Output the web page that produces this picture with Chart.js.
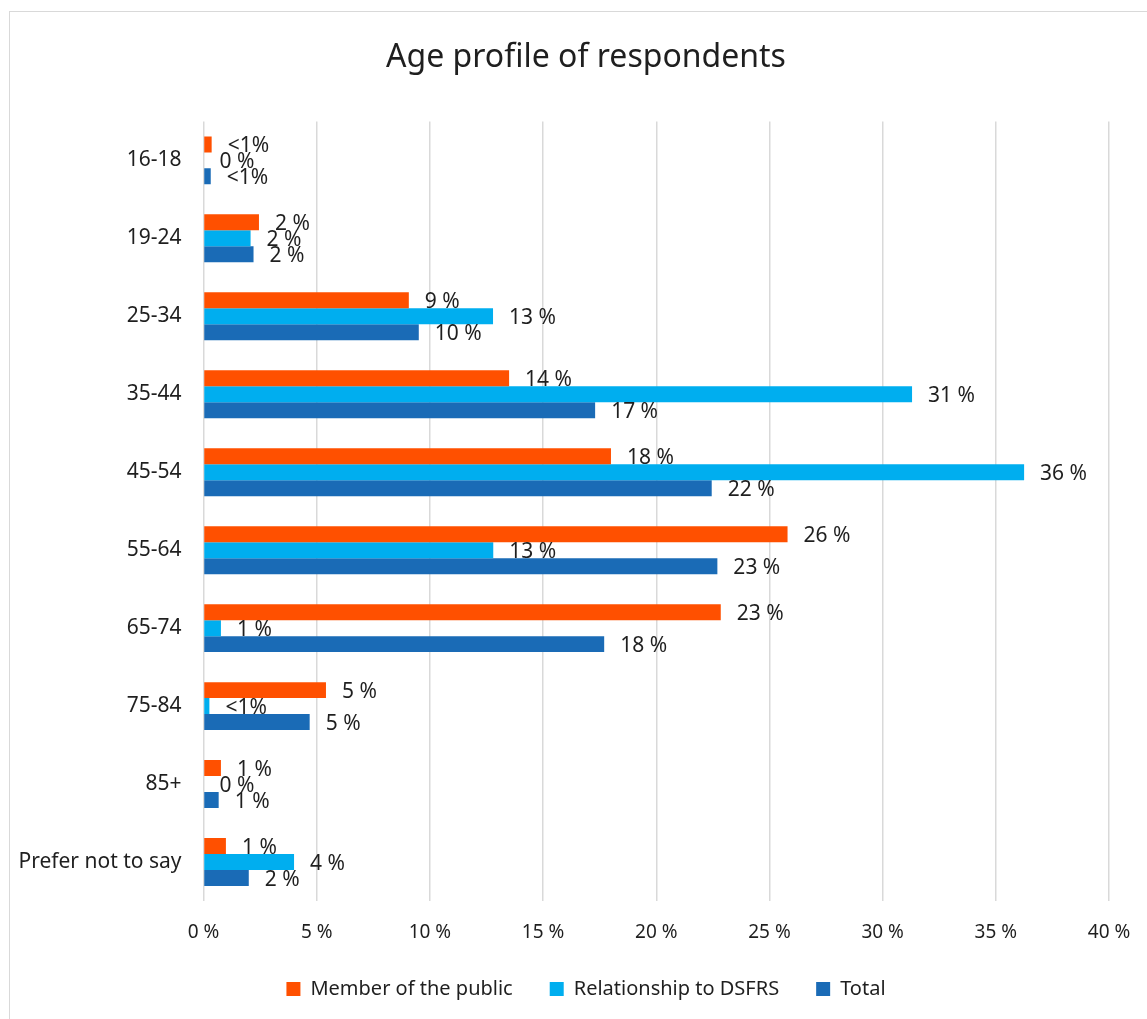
<!DOCTYPE html>
<html>
<head>
<meta charset="utf-8">
<script src="https://cdn.jsdelivr.net/npm/chart.js@4/dist/chart.umd.min.js"></script>
<style>
    html, body { margin: 0; padding: 0; background: #ffffff; }
    #wrap { position: relative; width: 1147px; height: 1019px; overflow: hidden; }
    #frame { position: absolute; left: 9px; top: 11px; width: 1160px; height: 1040px; border: 1px solid #d9d9d9; box-sizing: border-box; }
    canvas { position: absolute; left: 0; top: 0; }
</style>
</head>
<body>
<div id="wrap">
    <div id="frame"></div>
    <!-- canvas is a bit wider than the window: the chart frame runs past the right edge -->
    <canvas id="ageChart" width="1172" height="1019"></canvas>
</div>
<script>
// Chart data
const categories = ['16-18', '19-24', '25-34', '35-44', '45-54', '55-64', '65-74', '75-84', '85+', 'Prefer not to say'];
const publicValues = [0.36, 2.45, 9.07, 13.5, 18.0, 25.8, 22.85, 5.41, 0.77, 0.99];
const relationshipValues = [0, 2.08, 12.79, 31.3, 36.25, 12.8, 0.77, 0.26, 0, 4.0];
const totalValues = [0.32, 2.21, 9.51, 17.3, 22.45, 22.7, 17.7, 4.69, 0.67, 2.0];
const xTicks = [0, 5, 10, 15, 20, 25, 30, 35, 40];

const FONT = "'Noto Sans', 'DejaVu Sans', sans-serif";
const TEXT_COLOR = '#1f1f1f';

/**
 * Label text shown after each bar
 */
function barLabel(v) {
    if (v === 0) return '0 %';
    if (v < 0.5) return '<1%';
    return Math.round(v) + ' %';
}

// Draws value labels to the right of bars
const barLabelsPlugin = {
    id: 'barLabels',
    afterDatasetsDraw(chart) {
        const ctx = chart.ctx;
        ctx.save();
        ctx.font = '21px ' + FONT;
        ctx.fillStyle = TEXT_COLOR;
        ctx.textAlign = 'left';
        ctx.textBaseline = 'middle';
        chart.data.datasets.forEach((ds, i) => {
            const meta = chart.getDatasetMeta(i);
            meta.data.forEach((bar, j) => {
                ctx.fillText(barLabel(ds.data[j]), bar.x + 16, bar.y + 2);
            });
        });
        ctx.restore();
    }
};

const ctx = document.getElementById('ageChart');

new Chart(ctx, {
    type: 'bar',
    data: {
        labels: categories,
        datasets: [
            { label: 'Member of the public', data: publicValues, backgroundColor: '#FF5000' },
            { label: 'Relationship to DSFRS', data: relationshipValues, backgroundColor: '#00AEEF' },
            { label: 'Total', data: totalValues, backgroundColor: '#1A6BB6' }
        ]
    },
    options: {
        indexAxis: 'y',
        responsive: false,
        animation: false,
        layout: { padding: { left: 0, right: 0, top: 0, bottom: 10 } },
        datasets: {
            bar: { categoryPercentage: 0.615, barPercentage: 1 }
        },
        plugins: {
            title: {
                display: true,
                text: 'Age profile of respondents',
                color: TEXT_COLOR,
                font: { family: FONT, size: 32, weight: 'normal' },
                padding: { top: 39, bottom: 44 }
            },
            legend: {
                position: 'bottom',
                labels: {
                    boxWidth: 14,
                    boxHeight: 14,
                    padding: 37,
                    color: TEXT_COLOR,
                    font: { family: FONT, size: 20 }
                }
            },
            tooltip: { enabled: false }
        },
        scales: {
            x: {
                min: 0,
                max: 40,
                afterBuildTicks(scale) {
                    scale.ticks = xTicks.map(v => ({ value: v }));
                },
                afterFit(scale) { scale.height = 41; },
                grid: { color: '#d9d9d9', lineWidth: 1.5, drawTicks: false },
                border: { display: false },
                ticks: {
                    padding: 20,
                    color: TEXT_COLOR,
                    font: { family: FONT, size: 19 },
                    callback: v => v + ' %'
                }
            },
            y: {
                afterFit(scale) { scale.width = 203.5; },
                grid: { display: false, drawTicks: false },
                border: { display: false },
                ticks: {
                    padding: 22,
                    color: TEXT_COLOR,
                    font: { family: FONT, size: 21 }
                }
            },
            // empty right-hand spacer so the plot ends at 40 %
            spacer: {
                type: 'category',
                axis: 'y',
                position: 'right',
                afterFit(scale) { scale.width = 63; },
                grid: { display: false, drawTicks: false },
                border: { display: false },
                ticks: { display: false }
            }
        }
    },
    plugins: [barLabelsPlugin]
});
</script>
</body>
</html>
